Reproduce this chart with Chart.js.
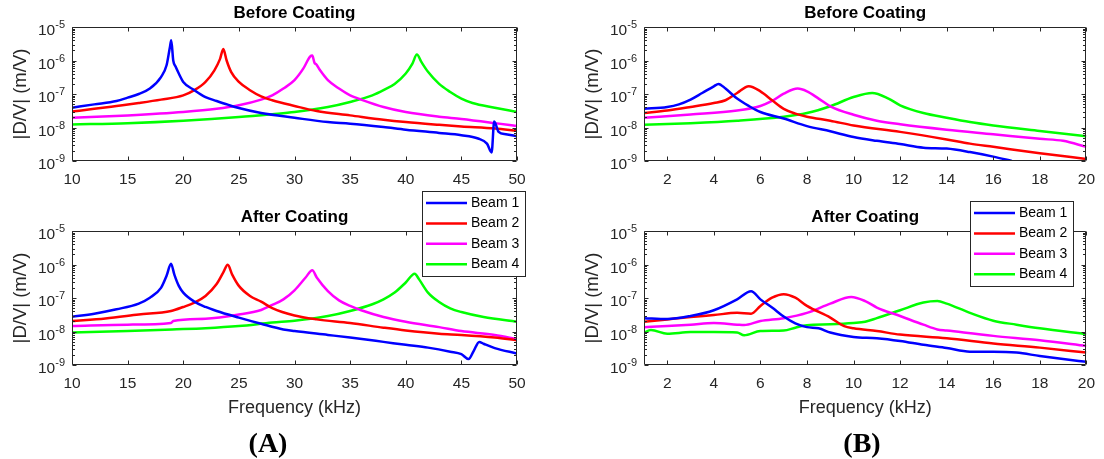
<!DOCTYPE html>
<html>
<head>
<meta charset="utf-8">
<script src="https://cdn.jsdelivr.net/npm/chart.js@4.4.0/dist/chart.umd.min.js"></script>
<style>
  html, body { margin: 0; padding: 0; background: #fff; }
  #wrap { position: relative; width: 1104px; height: 459px; overflow: hidden; }
  #wrap canvas { position: absolute; left: 0; top: 0; }
  .tag { position: absolute; font: bold 28px "Liberation Serif", "Times New Roman", serif; color: #000; transform: translate(-50%, -50%); }
</style>
</head>
<body>
<div id="wrap">
  <canvas id="beforeA" width="1104" height="459"></canvas>
  <canvas id="beforeB" width="1104" height="459"></canvas>
  <canvas id="afterA" width="1104" height="459"></canvas>
  <canvas id="afterB" width="1104" height="459"></canvas>
  <div class="tag" style="left:268px;top:443px">(A)</div>
  <div class="tag" style="left:862px;top:443px">(B)</div>
</div>
<script>
// --- DATA ---
const beamNames = ['Beam 1', 'Beam 2', 'Beam 3', 'Beam 4'];
const beamColors = ['#0000ff', '#ff0000', '#ff00ff', '#00ff00'];
const xTicksA = [10, 15, 20, 25, 30, 35, 40, 45, 50];
const xTicksB = [2, 4, 6, 8, 10, 12, 14, 16, 18, 20];
const yTicks = [1e-9, 1e-8, 1e-7, 1e-6, 1e-5];

// (A) Before Coating, 10-50 kHz
const beforeA_f1 = [10, 12, 14, 15, 16, 17, 18, 18.5, 18.8, 18.92, 19.1, 19.3, 19.6, 20, 21, 22, 23, 24, 25, 27, 30, 33, 35, 38, 40, 43, 45, 46.5, 47.3, 47.72, 47.95, 48.35, 49, 50];
const beforeA_m1 = [3.9e-8, 4.9e-8, 6.2e-8, 7.8e-8, 1.0e-7, 1.45e-7, 3.2e-7, 7.2e-7, 2.5e-6, 4.0e-6, 1.0e-6, 6.7e-7, 4.1e-7, 2.3e-7, 1.3e-7, 8.1e-8, 6.2e-8, 4.8e-8, 3.8e-8, 2.7e-8, 1.95e-8, 1.45e-8, 1.3e-8, 1.03e-8, 8.6e-9, 6.9e-9, 5.9e-9, 4.7e-9, 3.3e-9, 1.8e-9, 1.5e-8, 7.4e-9, 6.3e-9, 5.5e-9];
const beforeA_f2 = [10, 12, 14, 16, 18, 20, 21, 22, 22.8, 23.3, 23.6, 23.9, 24.3, 25, 26, 27, 28, 30, 32, 35, 38, 40, 43, 45, 48, 50];
const beforeA_m2 = [3.0e-8, 3.6e-8, 4.4e-8, 5.4e-8, 6.8e-8, 9.1e-8, 1.3e-7, 2.3e-7, 5.1e-7, 1.1e-6, 2.2e-6, 1.0e-6, 4.6e-7, 2.3e-7, 1.3e-7, 8.5e-8, 6.5e-8, 4.4e-8, 3.1e-8, 2.3e-8, 1.7e-8, 1.45e-8, 1.2e-8, 1.07e-8, 9.3e-9, 7.9e-9];
const beforeA_f3 = [10, 15, 20, 23, 25, 27, 28, 29, 30, 30.8, 31.4, 31.6, 31.8, 31.95, 32.3, 33, 34, 35, 36, 38, 40, 43, 45, 48, 50];
const beforeA_m3 = [1.95e-8, 2.3e-8, 2.9e-8, 3.6e-8, 4.6e-8, 6.8e-8, 9.1e-8, 1.45e-7, 2.6e-7, 5.8e-7, 1.3e-6, 1.4e-6, 8.5e-7, 7.7e-7, 5.1e-7, 2.6e-7, 1.45e-7, 9.1e-8, 6.8e-8, 4.1e-8, 2.9e-8, 2.1e-8, 1.8e-8, 1.35e-8, 1.1e-8];
const beforeA_f4 = [10, 15, 20, 25, 28, 30, 33, 35, 37, 38, 39, 40, 40.6, 41, 41.4, 42, 43, 44, 45, 46, 48, 50];
const beforeA_m4 = [1.23e-8, 1.35e-8, 1.6e-8, 2.05e-8, 2.5e-8, 2.9e-8, 4.1e-8, 5.8e-8, 9.1e-8, 1.3e-7, 2.0e-7, 4.1e-7, 8.1e-7, 1.5e-6, 9.1e-7, 4.6e-7, 2.0e-7, 1.15e-7, 7.3e-8, 5.4e-8, 3.9e-8, 2.9e-8];

// (A) After Coating
const afterA_f1 = [10, 12, 14, 16, 17, 18, 18.5, 18.9, 19.2, 19.6, 20, 21, 22, 23, 25, 27, 29, 30, 33, 35, 38, 40, 42, 44, 45, 45.65, 46.1, 46.6, 47, 48, 50];
const afterA_m1 = [2.75e-8, 3.4e-8, 4.6e-8, 6.8e-8, 1.02e-7, 2.0e-7, 4.6e-7, 1.05e-6, 5.0e-7, 2.3e-7, 1.45e-7, 7.8e-8, 5.4e-8, 4.1e-8, 2.6e-8, 1.7e-8, 1.15e-8, 1.03e-8, 7.9e-9, 6.6e-9, 4.9e-9, 4.0e-9, 3.3e-9, 2.5e-9, 2.1e-9, 1.5e-9, 2.6e-9, 4.9e-9, 4.3e-9, 3.2e-9, 2.2e-9];
const afterA_f2 = [10, 13, 16, 18.9, 20, 21, 22, 23, 23.6, 24, 24.4, 25, 26, 27, 28, 30, 32, 35, 38, 40, 43, 45, 48, 50];
const afterA_m2 = [2.05e-8, 2.45e-8, 3.2e-8, 4.1e-8, 5.4e-8, 7.3e-8, 1.15e-7, 2.6e-7, 5.8e-7, 9.8e-7, 5.0e-7, 2.3e-7, 1.15e-7, 7.8e-8, 5.0e-8, 3.0e-8, 2.3e-8, 1.8e-8, 1.3e-8, 1.07e-8, 8.6e-9, 7.9e-9, 6.6e-9, 5.5e-9];
const afterA_f3 = [10, 15, 18.9, 19.1, 22, 25, 27, 28, 29, 30, 31, 31.6, 32, 33, 34, 35, 36, 38, 40, 43, 45, 48, 50];
const afterA_m3 = [1.45e-8, 1.6e-8, 1.8e-8, 2.05e-8, 2.4e-8, 3.2e-8, 4.4e-8, 6.2e-8, 9.1e-8, 1.7e-7, 4.1e-7, 6.7e-7, 4.1e-7, 1.6e-7, 8.5e-8, 5.8e-8, 4.3e-8, 2.7e-8, 1.95e-8, 1.35e-8, 1.03e-8, 7.9e-9, 5.9e-9];
const afterA_f4 = [10, 15, 19, 22, 25, 28, 30, 33, 35, 37, 38, 39, 40, 40.8, 41.2, 42, 43, 44, 45, 47, 50];
const afterA_m4 = [9.3e-9, 1.03e-8, 1.15e-8, 1.25e-8, 1.45e-8, 1.85e-8, 2.1e-8, 2.9e-8, 4.1e-8, 6.5e-8, 9.1e-8, 1.45e-7, 2.9e-7, 5.3e-7, 3.6e-7, 1.45e-7, 7.6e-8, 4.9e-8, 3.8e-8, 2.7e-8, 1.95e-8];

// (B) Before Coating, 1-20 kHz
const beforeB_f1 = [1, 2, 2.5, 3, 3.5, 4, 4.2, 4.5, 5, 5.5, 6, 7, 8, 9, 10, 11, 12, 13, 14, 15, 16, 16.8];
const beforeB_m1 = [3.6e-8, 4.1e-8, 4.9e-8, 6.8e-8, 1.07e-7, 1.7e-7, 2.0e-7, 1.45e-7, 7.3e-8, 4.4e-8, 2.9e-8, 1.85e-8, 1.1e-8, 7.7e-9, 5.2e-9, 4.0e-9, 3.2e-9, 2.5e-9, 2.35e-9, 1.85e-9, 1.35e-9, 1.0e-9];
const beforeB_f2 = [1, 2, 3, 4, 4.5, 5, 5.5, 6, 6.5, 7, 7.5, 8, 9, 10, 12, 14, 15, 16, 18, 20];
const beforeB_m2 = [2.7e-8, 3.2e-8, 4.1e-8, 5.4e-8, 6.5e-8, 1.07e-7, 1.7e-7, 1.2e-7, 6.5e-8, 3.6e-8, 2.6e-8, 2.1e-8, 1.6e-8, 1.15e-8, 7.4e-9, 4.4e-9, 3.3e-9, 2.65e-9, 1.7e-9, 1.15e-9];
const beforeB_f3 = [1, 3, 5, 6, 6.5, 7, 7.6, 8, 8.5, 9, 10, 11, 12, 14, 16, 18, 19, 20];
const beforeB_m3 = [1.95e-8, 2.45e-8, 3.2e-8, 4.4e-8, 6.2e-8, 1.02e-7, 1.45e-7, 1.2e-7, 7.3e-8, 4.3e-8, 2.4e-8, 1.6e-8, 1.25e-8, 8.6e-9, 6.3e-9, 4.6e-9, 4.0e-9, 2.65e-9];
const beforeB_f4 = [1, 3, 5, 7, 8, 9, 10, 10.8, 11.5, 12, 13, 14, 15, 16, 18, 20];
const beforeB_m4 = [1.2e-8, 1.35e-8, 1.6e-8, 2.1e-8, 2.7e-8, 4.3e-8, 8.1e-8, 1.07e-7, 7.3e-8, 4.6e-8, 2.7e-8, 1.95e-8, 1.45e-8, 1.15e-8, 7.9e-9, 5.5e-9];

// (B) After Coating
const afterB_f1 = [1, 2, 3, 4, 5, 5.6, 6, 6.5, 7, 7.5, 8, 8.5, 9, 10, 11, 12, 13, 14, 15, 16, 17, 18, 19, 20];
const afterB_m1 = [2.5e-8, 2.35e-8, 2.9e-8, 4.3e-8, 9.1e-8, 1.6e-7, 9.1e-8, 5.2e-8, 2.8e-8, 1.75e-8, 1.35e-8, 1.25e-8, 9.3e-9, 6.9e-9, 6.3e-9, 5.2e-9, 4.0e-9, 3.2e-9, 2.5e-9, 2.5e-9, 2.35e-9, 1.85e-9, 1.5e-9, 1.25e-9];
const afterB_f2 = [1, 2, 3, 4, 5, 5.6, 6, 6.5, 7, 7.5, 8, 9, 9.6, 10, 11, 12, 14, 16, 18, 20];
const afterB_m2 = [1.95e-8, 2.3e-8, 2.7e-8, 3.1e-8, 3.6e-8, 3.4e-8, 5.8e-8, 1.02e-7, 1.3e-7, 1.02e-7, 5.8e-8, 2.6e-8, 1.45e-8, 1.25e-8, 1.03e-8, 8.1e-9, 6.3e-9, 4.4e-9, 3.3e-9, 2.35e-9];
const afterB_f3 = [1, 2, 3, 4, 5, 5.3, 6, 7, 8, 9, 9.9, 10.5, 11, 12, 13, 13.6, 14, 16, 18, 20];
const afterB_m3 = [1.35e-8, 1.45e-8, 1.6e-8, 1.8e-8, 1.6e-8, 1.55e-8, 2.05e-8, 2.5e-8, 3.6e-8, 6.8e-8, 1.07e-7, 8.1e-8, 5.2e-8, 2.9e-8, 1.6e-8, 1.15e-8, 1.07e-8, 7.4e-9, 5.5e-9, 3.7e-9];
const afterB_f4 = [1, 1.3, 2, 3, 4, 5, 5.3, 6, 7, 7.5, 8, 9, 10, 10.5, 11, 12, 13, 13.6, 14, 15, 16, 17, 18, 20];
const afterB_m4 = [9.3e-9, 1.1e-8, 8.6e-9, 9.6e-9, 9.6e-9, 9.3e-9, 7.7e-9, 1.03e-8, 1.07e-8, 1.3e-8, 1.55e-8, 1.65e-8, 1.8e-8, 1.95e-8, 2.5e-8, 4.3e-8, 7.3e-8, 8.1e-8, 6.8e-8, 3.6e-8, 2.1e-8, 1.6e-8, 1.25e-8, 8.4e-9];

// --- STYLE ---
const FONT = '"Liberation Sans", Arial, Helvetica, sans-serif';
const AXIS_COLOR = '#262626';
Chart.defaults.font.family = FONT;

// MATLAB-like box with inward ticks (major + log minor) and 10^n labels
const framePlugin = {
    id: 'frame',
    afterDatasetsDraw(chart) {
        const { ctx, chartArea: a, scales: { x, y } } = chart;
        const L = Math.round(a.left) + 0.5, R = Math.round(a.right) - 0.5;
        const T = Math.round(a.top) + 0.5, B = Math.round(a.bottom) - 0.5;
        ctx.save();
        ctx.strokeStyle = AXIS_COLOR;
        ctx.lineWidth = 1;
        ctx.beginPath();
        ctx.rect(L, T, R - L, B - T);
        x.ticks.forEach(t => {
            const px = Math.round(x.getPixelForValue(t.value)) + 0.5;
            ctx.moveTo(px, B); ctx.lineTo(px, B - 4);
            ctx.moveTo(px, T); ctx.lineTo(px, T + 4);
        });
        y.ticks.forEach((t, i) => {
            const py = Math.round(y.getPixelForValue(t.value)) + 0.5;
            ctx.moveTo(L, py); ctx.lineTo(L + 4, py);
            ctx.moveTo(R, py); ctx.lineTo(R - 4, py);
            if (i < y.ticks.length - 1) {
                for (let k = 2; k <= 9; k++) {
                    const my = Math.round(y.getPixelForValue(k * t.value)) + 0.5;
                    ctx.moveTo(L, my); ctx.lineTo(L + 2.5, my);
                    ctx.moveTo(R, my); ctx.lineTo(R - 2.5, my);
                }
            }
        });
        ctx.stroke();

        // tick labels as 10 with a raised exponent
        ctx.fillStyle = AXIS_COLOR;
        ctx.textAlign = 'right';
        y.ticks.forEach(t => {
            const py = y.getPixelForValue(t.value);
            const ex = String(Math.round(Math.log10(t.value)));
            const xr = a.left - 7;
            ctx.font = '11px ' + FONT;
            ctx.textBaseline = 'alphabetic';
            ctx.fillText(ex, xr, py + 1);
            const ew = ctx.measureText(ex).width;
            ctx.font = '15.5px ' + FONT;
            ctx.textBaseline = 'middle';
            ctx.fillText('10', xr - ew, py + 4);
        });
        ctx.restore();
    }
};

// boxed legend placed like the MATLAB one
const legendPlugin = {
    id: 'beamLegend',
    afterDraw(chart, args, o) {
        const { ctx } = chart;
        ctx.save();
        ctx.fillStyle = '#fff';
        ctx.fillRect(o.x, o.y, o.w, o.h);
        ctx.strokeStyle = AXIS_COLOR;
        ctx.lineWidth = 1;
        ctx.strokeRect(o.x + 0.5, o.y + 0.5, o.w, o.h);
        ctx.font = '14px ' + FONT;
        ctx.textBaseline = 'middle';
        chart.data.datasets.forEach((ds, i) => {
            const cy = o.y + 12 + i * 20.4;
            ctx.strokeStyle = ds.borderColor;
            ctx.lineWidth = 2.5;
            ctx.beginPath();
            ctx.moveTo(o.x + 4, cy);
            ctx.lineTo(o.x + 45, cy);
            ctx.stroke();
            ctx.fillStyle = '#000';
            ctx.fillText(ds.label, o.x + 49, cy);
        });
        ctx.restore();
    }
};

function makePanel(id, p) {
    const datasets = p.series.map((s, i) => ({
        label: beamNames[i],
        data: s[0].map((f, k) => ({ x: f, y: s[1][k] })),
        borderColor: beamColors[i],
        backgroundColor: beamColors[i],
        borderWidth: 2.5,
        pointRadius: 0,
        cubicInterpolationMode: 'monotone',
        fill: false
    }));
    return new Chart(document.getElementById(id), {
        type: 'line',
        data: { datasets },
        options: {
            responsive: false,
            animation: false,
            devicePixelRatio: 1,
            events: [],
            layout: { padding: p.pad },
            plugins: {
                legend: { display: false },
                tooltip: { enabled: false },
                title: {
                    display: true,
                    text: p.title,
                    fullSize: false,
                    color: '#000',
                    font: { size: 17, weight: 'bold' },
                    padding: { top: 2.8, bottom: 3.8 }
                },
                beamLegend: p.legend || false
            },
            scales: {
                x: {
                    type: 'linear',
                    min: p.xMin,
                    max: p.xMax,
                    afterBuildTicks: s => { s.ticks = p.xTicks.map(v => ({ value: v })); },
                    afterFit: s => { s.height = p.xH; },
                    grid: { display: false, drawTicks: false },
                    border: { display: false },
                    ticks: {
                        autoSkip: false,
                        maxRotation: 0,
                        padding: 9,
                        color: AXIS_COLOR,
                        font: { size: 15.5 },
                        callback: v => String(v)
                    },
                    title: {
                        display: !!p.xTitle,
                        text: 'Frequency (kHz)',
                        color: AXIS_COLOR,
                        font: { size: 18 },
                        padding: { top: 0, bottom: 2.2 }
                    }
                },
                y: {
                    type: 'logarithmic',
                    min: yTicks[0],
                    max: yTicks[yTicks.length - 1],
                    afterBuildTicks: s => { s.ticks = yTicks.map(v => ({ value: v })); },
                    afterFit: s => { s.width = 72; },
                    grid: { display: false, drawTicks: false },
                    border: { display: false },
                    ticks: { display: false },
                    title: {
                        display: true,
                        text: '|D/V| (m/V)',
                        color: AXIS_COLOR,
                        font: { size: 18.5 },
                        padding: { top: 10, bottom: 0 }
                    }
                }
            }
        },
        plugins: [framePlugin, legendPlugin]
    });
}

// Before Coating (A)
makePanel('beforeA', {
    title: 'Before Coating',
    xMin: 10, xMax: 50, xTicks: xTicksA, xH: 30,
    pad: { left: 0, top: 0, right: 587, bottom: 268 },
    series: [[beforeA_f1, beforeA_m1], [beforeA_f2, beforeA_m2], [beforeA_f3, beforeA_m3], [beforeA_f4, beforeA_m4]]
});

// Before Coating (B)
makePanel('beforeB', {
    title: 'Before Coating',
    xMin: 1, xMax: 20, xTicks: xTicksB, xH: 30,
    pad: { left: 572, top: 0, right: 13, bottom: 268 },
    series: [[beforeB_f1, beforeB_m1], [beforeB_f2, beforeB_m2], [beforeB_f3, beforeB_m3], [beforeB_f4, beforeB_m4]]
});

// After Coating (A)
makePanel('afterA', {
    title: 'After Coating',
    xMin: 10, xMax: 50, xTicks: xTicksA, xH: 56, xTitle: true,
    pad: { left: 0, top: 204, right: 587, bottom: 38 },
    legend: { x: 422, y: 191, w: 103, h: 85 },
    series: [[afterA_f1, afterA_m1], [afterA_f2, afterA_m2], [afterA_f3, afterA_m3], [afterA_f4, afterA_m4]]
});

// After Coating (B)
makePanel('afterB', {
    title: 'After Coating',
    xMin: 1, xMax: 20, xTicks: xTicksB, xH: 56, xTitle: true,
    pad: { left: 572, top: 204, right: 13, bottom: 38 },
    legend: { x: 970, y: 201, w: 103, h: 85 },
    series: [[afterB_f1, afterB_m1], [afterB_f2, afterB_m2], [afterB_f3, afterB_m3], [afterB_f4, afterB_m4]]
});
</script>
</body>
</html>
